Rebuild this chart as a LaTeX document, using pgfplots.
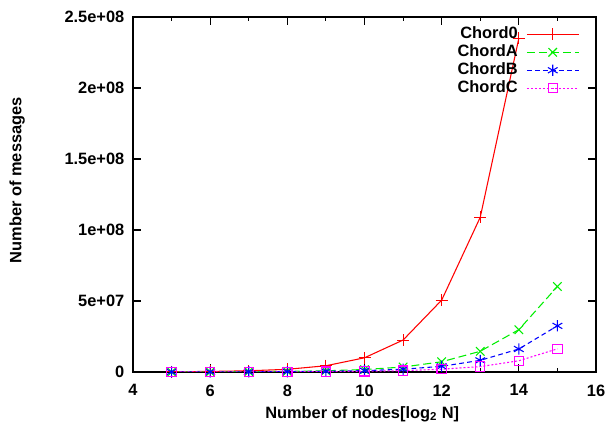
\documentclass[border=0pt]{standalone}
\usepackage{pgfplots}
\pgfplotsset{compat=1.18}
\usepackage{fontspec}
\setmainfont{Liberation Sans}
\definecolor{cred}{RGB}{255,0,0}
\definecolor{cgreen}{RGB}{0,238,0}
\definecolor{cblue}{RGB}{0,0,255}
\definecolor{cmag}{RGB}{255,0,255}
\newcommand{\ff}{\fontsize{12.3}{13.5}\selectfont\bfseries}
\begin{document}
\begin{tikzpicture}
\begin{axis}[
  scale only axis,
  width=347.25pt, height=266.25pt,
  xmin=4, xmax=16, ymin=0, ymax=2.5e8,
  xtick={4,6,8,10,12,14,16},
  minor xtick={5,7,9,11,13,15},
  ytick={0,5e7,1e8,1.5e8,2e8,2.5e8},
  yticklabels={0,5e+07,1e+08,1.5e+08,2e+08,2.5e+08},
  scaled y ticks=false,
  tick align=inside,
  major tick length=6pt, minor tick length=3pt,
  tick style={black, line width=0.8pt},
  axis line style={line width=1pt},
  /pgf/number format/assume math mode=true,
  every tick label/.append style={font=\ff},
  xticklabel style={yshift=-6pt},
  yticklabel style={xshift=-3pt},
  xlabel={\ff Number of nodes[log$_{\mathbf 2}$ N]},
  ylabel={\ff Number of messages},
  xlabel style={at={(axis description cs:0.495,-0.118)}, anchor=center},
  ylabel style={at={(axis description cs:-0.25,0.54)}, anchor=center},
  legend plot pos=right,
  legend cell align=right,
  legend style={draw=none, fill=none, at={(1,1)}, anchor=north east,
    inner sep=0pt, xshift=-12.5pt, yshift=-6pt,
    nodes={inner sep=1pt, text height=9pt, text depth=2.5pt},
    font=\ff, row sep=0pt, column sep=5.5pt},
  legend image code/.code={\draw[#1, mark repeat=2, mark phase=2] plot coordinates {(0cm,0cm) (0.68cm,0cm) (1.36cm,0cm)};},
]
\addplot[cred, line width=0.8pt, mark=+, mark size=4.5pt, mark options={solid, line width=0.8pt}] coordinates {
 (5,0.18e6) (6,0.4e6) (7,0.85e6) (8,1.9e6) (9,4.4e6) (10,10e6) (11,22.5e6) (12,50.6e6) (13,109e6) (14,235e6)
};
\addlegendentry{Chord0}
\addplot[cgreen, line width=0.8pt, dash pattern=on 6pt off 3pt, mark=x, mark size=4.5pt, mark options={solid, line width=0.8pt}] coordinates {
 (5,0.05e6) (6,0.1e6) (7,0.2e6) (8,0.42e6) (9,0.85e6) (10,1.75e6) (11,3.5e6) (12,7.2e6) (13,14.6e6) (14,29.8e6) (15,60.2e6)
};
\addlegendentry{ChordA}
\addplot[cblue, line width=0.8pt, dash pattern=on 3.5pt off 2.5pt, mark=asterisk, mark size=4.2pt, mark options={solid, line width=0.8pt}] coordinates {
 (5,0.03e6) (6,0.06e6) (7,0.12e6) (8,0.24e6) (9,0.48e6) (10,0.95e6) (11,1.95e6) (12,4e6) (13,8.2e6) (14,16.2e6) (15,32.5e6)
};
\addlegendentry{ChordB}
\addplot[cmag, line width=0.8pt, dash pattern=on 1.5pt off 1.5pt, mark=square, mark size=3.5pt, mark options={solid, line width=0.8pt}] coordinates {
 (5,0.015e6) (6,0.03e6) (7,0.06e6) (8,0.12e6) (9,0.24e6) (10,0.47e6) (11,0.95e6) (12,1.95e6) (13,3.8e6) (14,7.9e6) (15,16.3e6)
};
\addlegendentry{ChordC}
\end{axis}
\pgfresetboundingbox
\path ([xshift=-99.75pt,yshift=-43.5pt]current axis.south west) rectangle ([xshift=12pt,yshift=12.75pt]current axis.north east);
\end{tikzpicture}
\end{document}
